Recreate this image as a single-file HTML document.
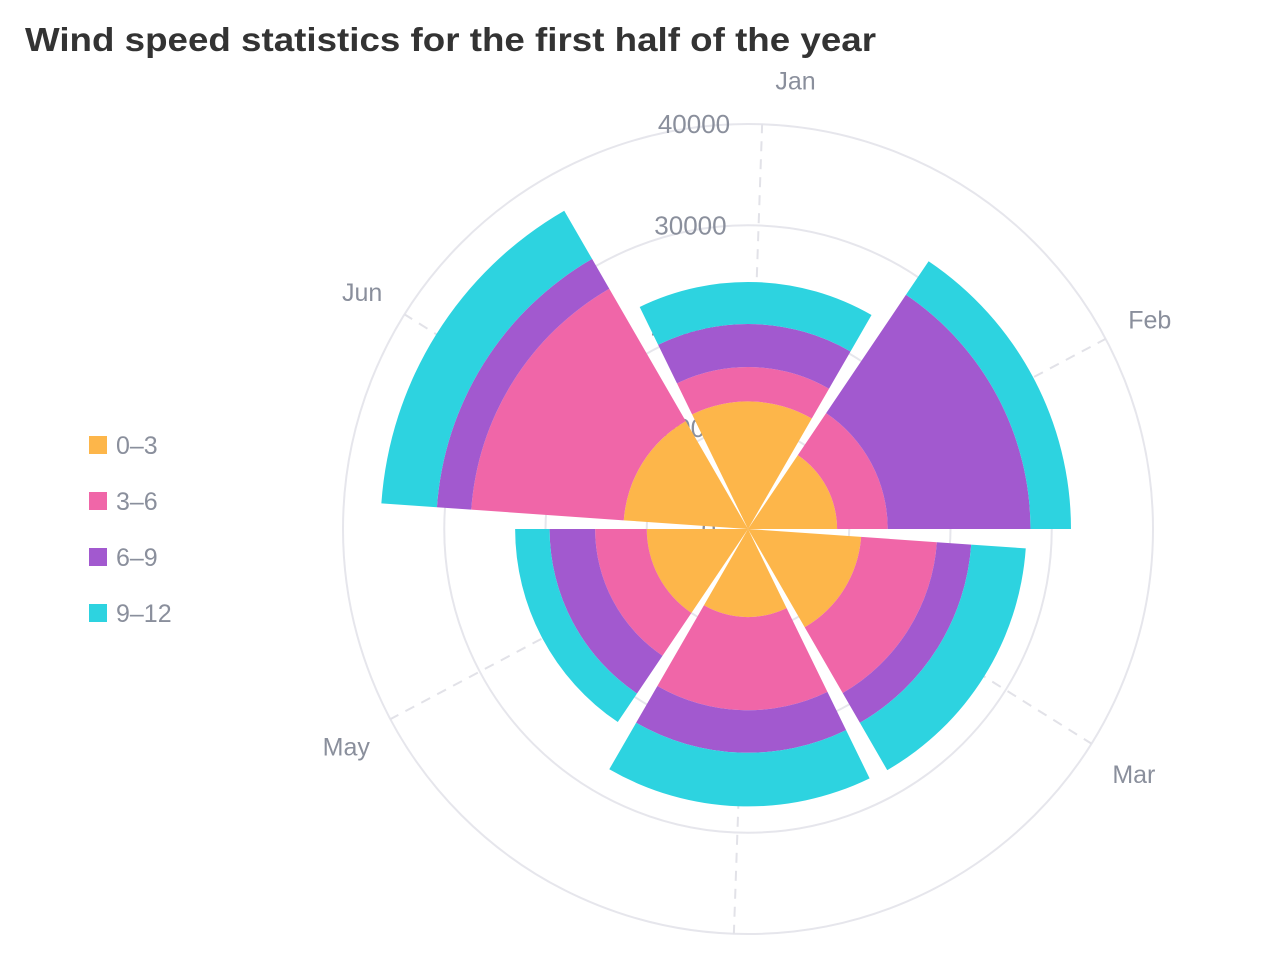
<!DOCTYPE html>
<html><head><meta charset="utf-8"><style>
body{margin:0;background:#fff;}
svg{display:block;font-family:"Liberation Sans",sans-serif;}
</style></head><body>
<svg id="chart" width="1280" height="960">
<text x="25" y="51" font-size="33" font-weight="bold" fill="#333" textLength="851" lengthAdjust="spacingAndGlyphs">Wind speed statistics for the first half of the year</text>
<g id="grid"></g><g id="bars"></g><g id="labels"></g><g id="legend"></g>
</svg>
<script>
const categories=['Jan','Feb','Mar','Apr','May','Jun'];
const seriesNames=['0–3','3–6','6–9','9–12'];
const s0=[12600,8800,11200,8700,10000,12300];
const s1=[3400,5000,7500,9200,5100,15100];
const s2=[4250,14100,3400,4200,4500,3400];
const s3=[4150,4000,5400,5300,3400,5500];
const radialTicks=[0,10000,20000,30000,40000];
const colors=['#fdb64a','#f066a8','#a259cf','#2dd3e0'];
const NS='http://www.w3.org/2000/svg';
const cx=748,cy=529,R=405,maxV=40000,rot=2,half=28;
function rS(v){return v/maxV*R;}
function aS(i){return rot+i*60;}
function pt(a,r){const t=a*Math.PI/180;return [cx+r*Math.sin(t),cy-r*Math.cos(t)];}
function mk(tag,attrs,parent){const e=document.createElementNS(NS,tag);for(const k in attrs)e.setAttribute(k,attrs[k]);parent.appendChild(e);return e;}
const grid=document.getElementById('grid');
radialTicks.slice(1).forEach(t=>{
  const c=mk('circle',{cx:cx,cy:cy,r:rS(t),fill:'none',stroke:'#e6e6ec','stroke-width':2},grid);
  
  
});
categories.forEach((c,i)=>{
  const p=pt(aS(i),R);
  const l=mk('line',{x1:cx,y1:cy,x2:p[0],y2:p[1],stroke:'#e2e2e8','stroke-width':2,'stroke-dasharray':'10,8'},grid);
  
  
});
radialTicks.forEach(t=>{
  const p=pt(rot,rS(t));
  const tx=mk('text',{x:p[0]-32,y:p[1]+9,'font-size':26,fill:'#8a8f9c','text-anchor':'end'},grid);
  tx.textContent=t;
  
  
});
const bars=document.getElementById('bars');
const series=[s0,s1,s2,s3];
categories.forEach((c,i)=>{
  let base=0;
  series.forEach((s,k)=>{
    const r0=rS(base),r1=rS(base+s[i]);base+=s[i];
    const a0=aS(i)-half,a1=aS(i)+half;
    const p1=pt(a0,r1),p2=pt(a1,r1),p3=pt(a1,r0),p4=pt(a0,r0);
    const d=`M${p4[0]},${p4[1]}L${p1[0]},${p1[1]}A${r1},${r1} 0 0 1 ${p2[0]},${p2[1]}L${p3[0]},${p3[1]}`+(r0>0?`A${r0},${r0} 0 0 0 ${p4[0]},${p4[1]}Z`:'Z');
    const e=mk('path',{d:d,fill:colors[k]},bars);
    
    
  });
});
const labels=document.getElementById('labels');
categories.forEach((c,i)=>{
  const a=aS(i)+(i===0?4:0);const p=pt(a,455);
  const tx=mk('text',{x:p[0],y:p[1]+13,'font-size':25,fill:'#8a8f9c','text-anchor':'middle'},labels);
  tx.textContent=c;
  
  
});
const lg=document.getElementById('legend');
seriesNames.forEach((n,k)=>{
  const g=mk('g',{},lg);
  
  
  mk('rect',{x:89,y:436+k*56,width:18,height:18,fill:colors[k]},g);
  const t=mk('text',{x:116,y:454+k*56,'font-size':25,fill:'#8a8f9c'},g);
  t.textContent=n;
});
</script>
</body></html>
